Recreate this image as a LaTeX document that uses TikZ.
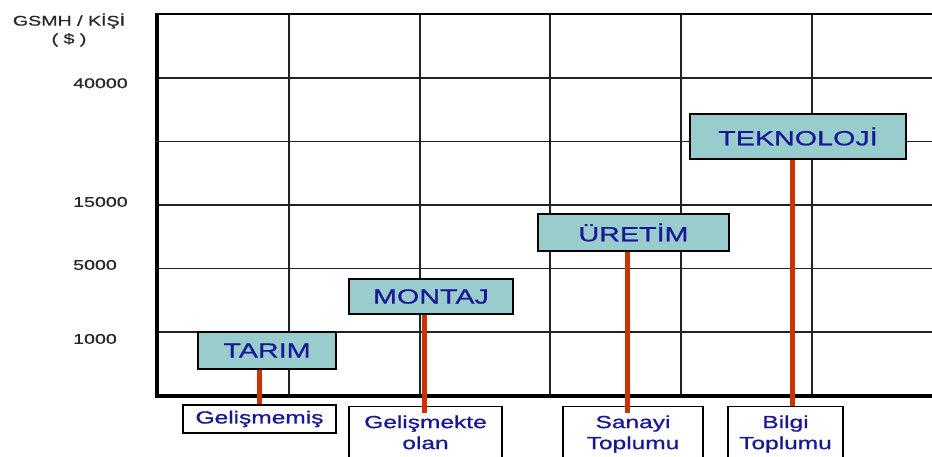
\documentclass[tikz,border=0pt]{standalone}
\usepackage{fontspec}
\setmainfont{Liberation Sans}[FakeStretch=1.4,FakeBold=0.8]
\definecolor{gridc}{RGB}{34,34,34}
\definecolor{boxfill}{RGB}{153,204,204}
\definecolor{txtblue}{RGB}{24,24,150}
\definecolor{axistxt}{RGB}{40,40,40}
\definecolor{connc}{RGB}{204,51,0}
\tikzset{
  gridline/.style={draw=gridc, line width=1.6pt},
  axisline/.style={draw=black, line width=3.2pt},
  stagebox/.style={draw=black, line width=1.2pt, fill=boxfill, text=txtblue,
    inner sep=0pt, font=\fontsize{20.5}{24}\selectfont},
  labelbox/.style={draw=black, line width=1.2pt, fill=white, text=txtblue,
    inner xsep=0pt, inner ysep=0pt, align=center,
    font=\fontsize{17.5}{21}\selectfont},
  axislabel/.style={text=axistxt, inner sep=0pt, font=\fontsize{14}{18}\selectfont},
  conn/.style={draw=connc, line width=5pt}
}
\begin{document}
\begin{tikzpicture}[x=1pt,y=-1pt]
\path[use as bounding box, clip] (0,0) rectangle (932,457);
% grid
\foreach \yy in {78,141.7,205,268.5,332} {
  \draw[gridline] (155,\yy) -- (932,\yy);
}
\foreach \xx in {289,420,550,681,812} {
  \draw[gridline] (\xx,14) -- (\xx,396);
}
\draw[draw=black, line width=2.4pt] (156,14) -- (932,14);
\draw[axisline] (157,12.8) -- (157,396);
\draw[axisline] (155.4,396) -- (932,396);
% axis labels
\node[axislabel, align=center] (ytitle) at (69,30) {GSMH / KİŞİ\\( \$ )};
\node[axislabel, anchor=west] (t40000) at (73,83.3) {40000};
\node[axislabel, anchor=west] (t15000) at (73,202) {15000};
\node[axislabel, anchor=west] (t5000) at (73,265) {5000};
\node[axislabel, anchor=west] (t1000) at (73,339) {1000};
% bottom labels
\node[labelbox, minimum width=153, minimum height=28] (gelis) at (259.5,419) {Gelişmemiş};
\node[labelbox, anchor=north, text width=153, text height=21.5pt, text depth=50pt] (gelisk) at (425.5,406) {Gelişmekte\\olan};
\node[labelbox, anchor=north, text width=140, text height=21.5pt, text depth=50pt] (sanayi) at (633,406) {Sanayi\\Toplumu};
\node[labelbox, anchor=north, text width=115, text height=21.5pt, text depth=50pt] (bilgi) at (785.5,406) {Bilgi\\Toplumu};
% stage boxes
\node[stagebox, minimum width=138, minimum height=37] (tarim) at (267,350.5) {TARIM};
\node[stagebox, minimum width=164, minimum height=35] (montaj) at (431,296.5) {MONTAJ};
\node[stagebox, minimum width=191, minimum height=37] (uretim) at (633.5,232.5) {ÜRETİM};
\node[stagebox, minimum width=216, minimum height=45] (tekno) at (798,136.5) {TEKNOLOJİ};
% connectors
\draw[conn] ([xshift=-8pt]tarim.south) -- ([xshift=-8pt]tarim.south |- gelis.north);
\draw[conn] ([xshift=-7pt]montaj.south) -- ([xshift=-7pt,yshift=-7pt]montaj.south |- gelisk.north);
\draw[conn] ([xshift=-6.5pt]uretim.south) -- ([xshift=-6.5pt,yshift=-7pt]uretim.south |- sanayi.north);
\draw[conn] ([xshift=-6pt]tekno.south) -- ([xshift=-6pt]tekno.south |- bilgi.north);
\end{tikzpicture}
\end{document}
